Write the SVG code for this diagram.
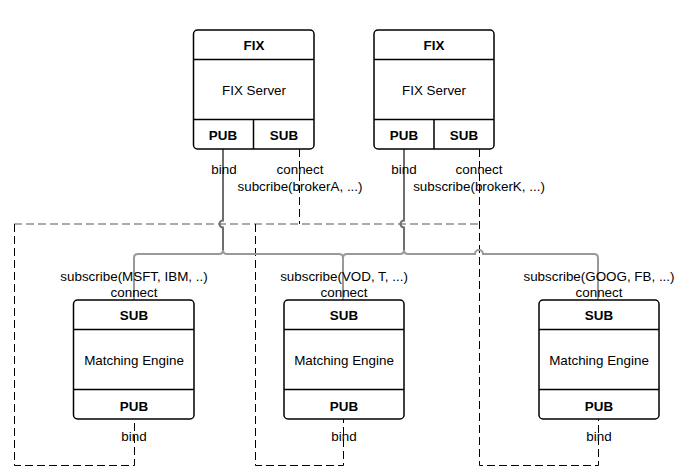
<svg xmlns="http://www.w3.org/2000/svg" width="686" height="475" viewBox="0 0 686 475">
<style>
text{font-family:"Liberation Sans",Arial,sans-serif;font-size:13.4px;fill:#000;text-anchor:middle}
.b{font-weight:bold}
.box{fill:#fff;stroke:#000;stroke-width:1.5}
.div{stroke:#000;stroke-width:1.5;fill:none}
.pub{fill:none;stroke:#6e6e6e;stroke-width:2}
.bus{fill:none;stroke:#999;stroke-width:2}
.dk{fill:none;stroke:#000;stroke-width:1;stroke-dasharray:8 4}
.dg{fill:none;stroke:#aaa;stroke-width:2;stroke-dasharray:8 4}
</style>
<rect width="686" height="475" fill="#fff"/>
<g id="connectors">
<path class="dg" d="M14,224 H479"/>
<path class="dk" d="M299.5,149 V224"/>
<path class="dk" d="M479.5,149 V465.5 H598.5 V419"/>
<path class="dk" d="M14.5,224 V465.5 H134.5 V419"/>
<path class="dk" d="M255.5,224 V465.5 H343.5 V419"/>
<path class="bus" d="M223,250 Q223,254 219,254 H138 Q134,254 134,258 V300"/>
<path class="bus" d="M223,250 Q223,254 227,254 H339 Q343,254 343,258 V300"/>
<path class="bus" d="M404,250 Q404,254 400,254 H347 Q343,254 343,258"/>
<path class="bus" d="M404,250 Q404,254 408,254 H475 A4,4 0 0 1 483,254 H594 Q598,254 598,258 V300"/>
<path class="pub" d="M223,149 V220.5 A3.5,3.5 0 0 0 223,227.5 V250"/>
<path class="pub" d="M404,149 V220.5 A3.5,3.5 0 0 0 404,227.5 V250"/>
<text x="224" y="174">bind</text>
<text x="300" y="174">connect</text>
<text x="300" y="191">subcribe(brokerA, ...)</text>
<text x="404" y="174">bind</text>
<text x="479" y="174">connect</text>
<text x="479" y="191">subscribe(brokerK, ...)</text>
<text x="134" y="281">subscribe(MSFT, IBM, ..)</text>
<text x="134" y="297">connect</text>
<text x="344" y="281">subscribe(VOD, T, ...)</text>
<text x="344" y="297">connect</text>
<text x="599" y="281">subscribe(GOOG, FB, ...)</text>
<text x="599" y="297">connect</text>
<text x="134" y="441">bind</text>
<text x="344" y="441">bind</text>
<text x="599" y="441">bind</text>
</g>
<g id="fix1">
<rect class="box" x="193.5" y="30" width="120.5" height="119" rx="4"/>
<path class="div" d="M193.5,59.5 H314 M193.5,119.5 H314 M253.5,119.5 V149"/>
<text class="b" x="254" y="50">FIX</text>
<text x="254" y="95">FIX Server</text>
<text class="b" x="223" y="140">PUB</text>
<text class="b" x="284" y="140">SUB</text>
</g>
<g id="fix2">
<rect class="box" x="374" y="30" width="120" height="119" rx="4"/>
<path class="div" d="M374,59.5 H494 M374,119.5 H494 M434,119.5 V149"/>
<text class="b" x="434" y="50">FIX</text>
<text x="434" y="95">FIX Server</text>
<text class="b" x="404" y="140">PUB</text>
<text class="b" x="464" y="140">SUB</text>
</g>
<g id="me1">
<rect class="box" x="73.5" y="300" width="120.5" height="119" rx="4"/>
<path class="div" d="M73.5,329.5 H194 M73.5,389.5 H194"/>
<text class="b" x="134" y="320">SUB</text>
<text x="134" y="365">Matching Engine</text>
<text class="b" x="134" y="411">PUB</text>
</g>
<g id="me2">
<rect class="box" x="284" y="300" width="120" height="119" rx="4"/>
<path class="div" d="M284,329.5 H404 M284,389.5 H404"/>
<text class="b" x="344" y="320">SUB</text>
<text x="344" y="365">Matching Engine</text>
<text class="b" x="344" y="411">PUB</text>
</g>
<g id="me3">
<rect class="box" x="539" y="300" width="120" height="119" rx="4"/>
<path class="div" d="M539,329.5 H659 M539,389.5 H659"/>
<text class="b" x="599" y="320">SUB</text>
<text x="599" y="365">Matching Engine</text>
<text class="b" x="599" y="411">PUB</text>
</g>
</svg>
